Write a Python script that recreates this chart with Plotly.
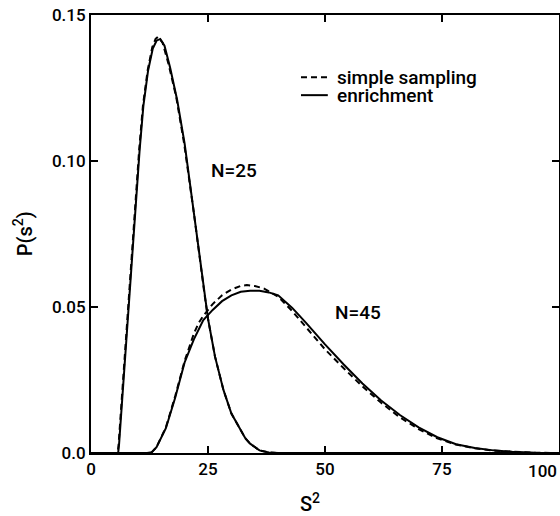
import plotly.graph_objects as go

# ---- data ----
# N = 25
n25_x_enr = [0, 5, 5.8, 6.0, 6.3, 6.8, 7.3, 8.3, 9.3, 10.4, 11.2, 12.2, 13.2, 14.0, 14.8, 15.7, 16.9,
             18.4, 20.0, 22.0, 24.2, 25.0, 26.5, 28.3, 30.0, 31.1, 33.0, 34.0, 36.0, 38.0, 40.0, 100]
n25_y_enr = [0, 0, 0, 0.003, 0.010, 0.021, 0.033, 0.056, 0.080, 0.104, 0.119, 0.131, 0.1385, 0.1412,
             0.1418, 0.1395, 0.132, 0.121, 0.106, 0.082, 0.055, 0.046, 0.033, 0.0216, 0.0135, 0.0103,
             0.005, 0.0032, 0.0009, 0.0002, 0, 0]

n25_x_ss = [0, 5, 5.7, 5.9, 6.2, 6.7, 7.2, 8.2, 9.2, 10.3, 11.1, 12.1, 13.1, 13.8, 14.3, 15.3, 16.6,
            18.2, 19.9, 22.0, 24.2, 25.0, 26.5, 28.3, 30.0, 31.1, 33.0, 34.0, 36.0, 38.0, 40.0, 100]
n25_y_ss = [0, 0, 0, 0.003, 0.010, 0.021, 0.033, 0.056, 0.080, 0.104, 0.119, 0.131, 0.139, 0.1418,
            0.1425, 0.1405, 0.133, 0.122, 0.106, 0.082, 0.055, 0.046, 0.033, 0.0216, 0.0135, 0.0103,
            0.005, 0.0032, 0.0009, 0.0002, 0, 0]

# N = 45
n45_x_enr = [0, 12, 13, 14, 16, 18, 20, 22, 24, 26, 28, 30, 32, 34, 36, 38, 40, 43, 46, 50, 54,
             58, 62, 66, 70, 74, 78, 82, 86, 90, 95, 100]
n45_y_enr = [0, 0, 0.0003, 0.002, 0.0085, 0.019, 0.031, 0.039, 0.0455, 0.049, 0.052, 0.054,
             0.0552, 0.0556, 0.0556, 0.055, 0.054, 0.0497, 0.0445, 0.0372, 0.0303, 0.0238, 0.018,
             0.013, 0.0088, 0.0054, 0.003, 0.0017, 0.0009, 0.0004, 0.0001, 0]

n45_x_ss = [0, 12, 13, 14, 16, 18, 20, 22, 23, 24, 26, 28, 30, 32, 33.3, 35, 37, 40, 43, 46, 50,
            54, 58, 62, 66, 70, 74, 78, 82, 86, 90, 95, 100]
n45_y_ss = [0, 0, 0.0003, 0.002, 0.0088, 0.0195, 0.0315, 0.041, 0.0445, 0.047, 0.051, 0.054,
            0.056, 0.0572, 0.0575, 0.0572, 0.0563, 0.0535, 0.0486, 0.043, 0.0355, 0.029, 0.0228,
            0.0172, 0.0122, 0.0082, 0.005, 0.0029, 0.0016, 0.0008, 0.0004, 0.0001, 0]

x_ticks = [0, 25, 50, 75, 100]
x_tick_labels = ["0", "25", "50", "75", "100"]
y_ticks = [0.0, 0.05, 0.10, 0.15]
y_tick_labels = ["0.0", "0.05", "0.10", "0.15"]

series_names = ["simple sampling", "enrichment"]
curve_labels = ["N=25", "N=45"]

FONT = "Roboto"
BLACK = "#000000"
DASH = "6px,4px"

fig = go.Figure()
for xs, ys, dash in [(n25_x_ss, n25_y_ss, DASH), (n25_x_enr, n25_y_enr, "solid"),
                     (n45_x_ss, n45_y_ss, DASH), (n45_x_enr, n45_y_enr, "solid")]:
    fig.add_trace(go.Scatter(x=xs, y=ys, mode="lines", showlegend=False, hoverinfo="skip",
                             line=dict(color=BLACK, width=2, dash=dash)))

tick_font = dict(family=FONT, size=17, color=BLACK, weight=500)
axis_common = dict(showline=True, linecolor=BLACK, linewidth=2, mirror="allticks",
                   ticks="inside", ticklen=7, tickwidth=2, tickcolor=BLACK,
                   showgrid=False, zeroline=False, automargin=False,
                   ticklabeloverflow="allow", tickfont=tick_font)

# the last x label sits at the right page edge: draw it right-aligned so it stays visible
x_text = x_tick_labels[:-1] + [""]
fig.update_xaxes(range=[0, 100], tickvals=x_ticks, ticktext=x_text, **axis_common)
fig.update_yaxes(range=[0, 0.15], tickvals=y_ticks, ticktext=y_tick_labels, **axis_common)
fig.add_annotation(x=x_ticks[-1], y=y_ticks[0], xanchor="right", yanchor="top", yshift=-6,
                   text=x_tick_labels[-1], showarrow=False, font=tick_font)

title_font = dict(family=FONT, size=20, color=BLACK, weight=500)
# axis titles
fig.add_annotation(xref="paper", yref="paper", x=0.467, y=-0.115, yanchor="middle",
                   text="S<sup>2</sup>", showarrow=False, font=title_font)
fig.add_annotation(xref="paper", yref="paper", x=-0.145, y=0.50, xanchor="center",
                   yanchor="middle", textangle=-90, text="P(s<sup>2</sup>)",
                   showarrow=False, font=title_font)

# curve labels
lab_font = dict(family=FONT, size=19, color=BLACK, weight=500)
fig.add_annotation(x=30.6, y=0.0966, text=curve_labels[0], showarrow=False, font=lab_font)
fig.add_annotation(x=57.0, y=0.048, text=curve_labels[1], showarrow=False, font=lab_font)

# legend drawn manually
leg_x0, leg_x1, leg_tx = 0.4487, 0.506, 0.521
for yy, name, dash in [(0.858, series_names[0], DASH), (0.817, series_names[1], "solid")]:
    fig.add_shape(type="line", xref="paper", yref="paper", x0=leg_x0, x1=leg_x1, y0=yy, y1=yy,
                  line=dict(color=BLACK, width=2, dash=dash))
    fig.add_annotation(xref="paper", yref="paper", x=leg_tx, y=yy, xanchor="left",
                       yanchor="middle", text=name, showarrow=False, font=lab_font)

fig.update_layout(width=560, height=516, margin=dict(l=91, r=1, t=15, b=63),
                  paper_bgcolor="white", plot_bgcolor="white", hovermode=False,
                  font=dict(family=FONT, color=BLACK))

fig.write_html("out.html", config={"displayModeBar": False},
               post_script="document.body.style.margin='0';document.body.style.overflow='hidden';")
